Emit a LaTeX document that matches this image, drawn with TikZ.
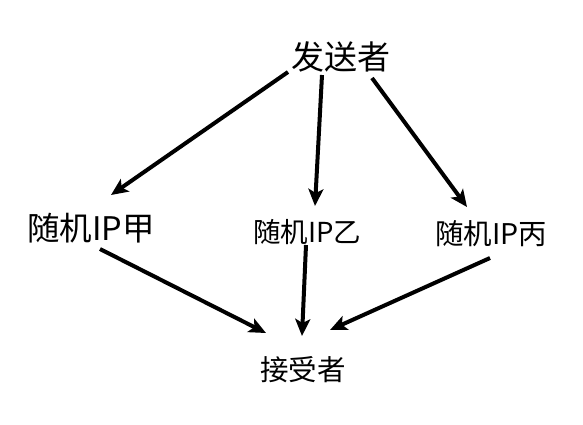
\documentclass[tikz,border=0pt]{standalone}
\usepackage{fontspec}
\newfontfamily\cjk{Noto Sans CJK SC}
\usetikzlibrary{arrows.meta,calc}
\tikzset{
  lbl/.style={inner sep=0pt, font=\cjk},
  flow/.style={line width=4pt, -{Stealth[length=17pt,width=15pt,inset=4pt]}}
}
\begin{document}
\begin{tikzpicture}[x=1pt,y=-1pt]
\useasboundingbox (0,0) rectangle (583,424);
% roles
\node[lbl, font=\cjk\fontsize{33}{36}\selectfont] (s) at (341,57) {发送者};
\node[lbl, font=\cjk\fontsize{32.5}{36}\selectfont] (a) at (91,228) {随机IP甲};
\node[lbl, font=\cjk\fontsize{27.5}{32}\selectfont] (b) at (307,232) {随机IP乙};
\node[lbl, font=\cjk\fontsize{28.5}{32}\selectfont] (c) at (491,234) {随机IP丙};
\node[lbl, font=\cjk\fontsize{28.5}{32}\selectfont] (r) at (303,370) {接受者};
% sender to relays
\draw[flow] ($(s)+(-53,15)$) -- ($(a)+(20,-33)$);
\draw[flow] ($(s)+(-19,18)$) -- ($(b)+(8,-26)$);
\draw[flow] ($(s)+(31,21)$) -- ($(c)+(-24,-27)$);
% relays to receiver
\draw[flow] ($(a)+(9,21)$) -- ($(r)+(-37,-37)$);
\draw[flow] ($(b)+(-1,13)$) -- ($(r)+(-1,-34)$);
\draw[flow] ($(c)+(-1,24)$) -- ($(r)+(27,-40)$);
\end{tikzpicture}
\end{document}
